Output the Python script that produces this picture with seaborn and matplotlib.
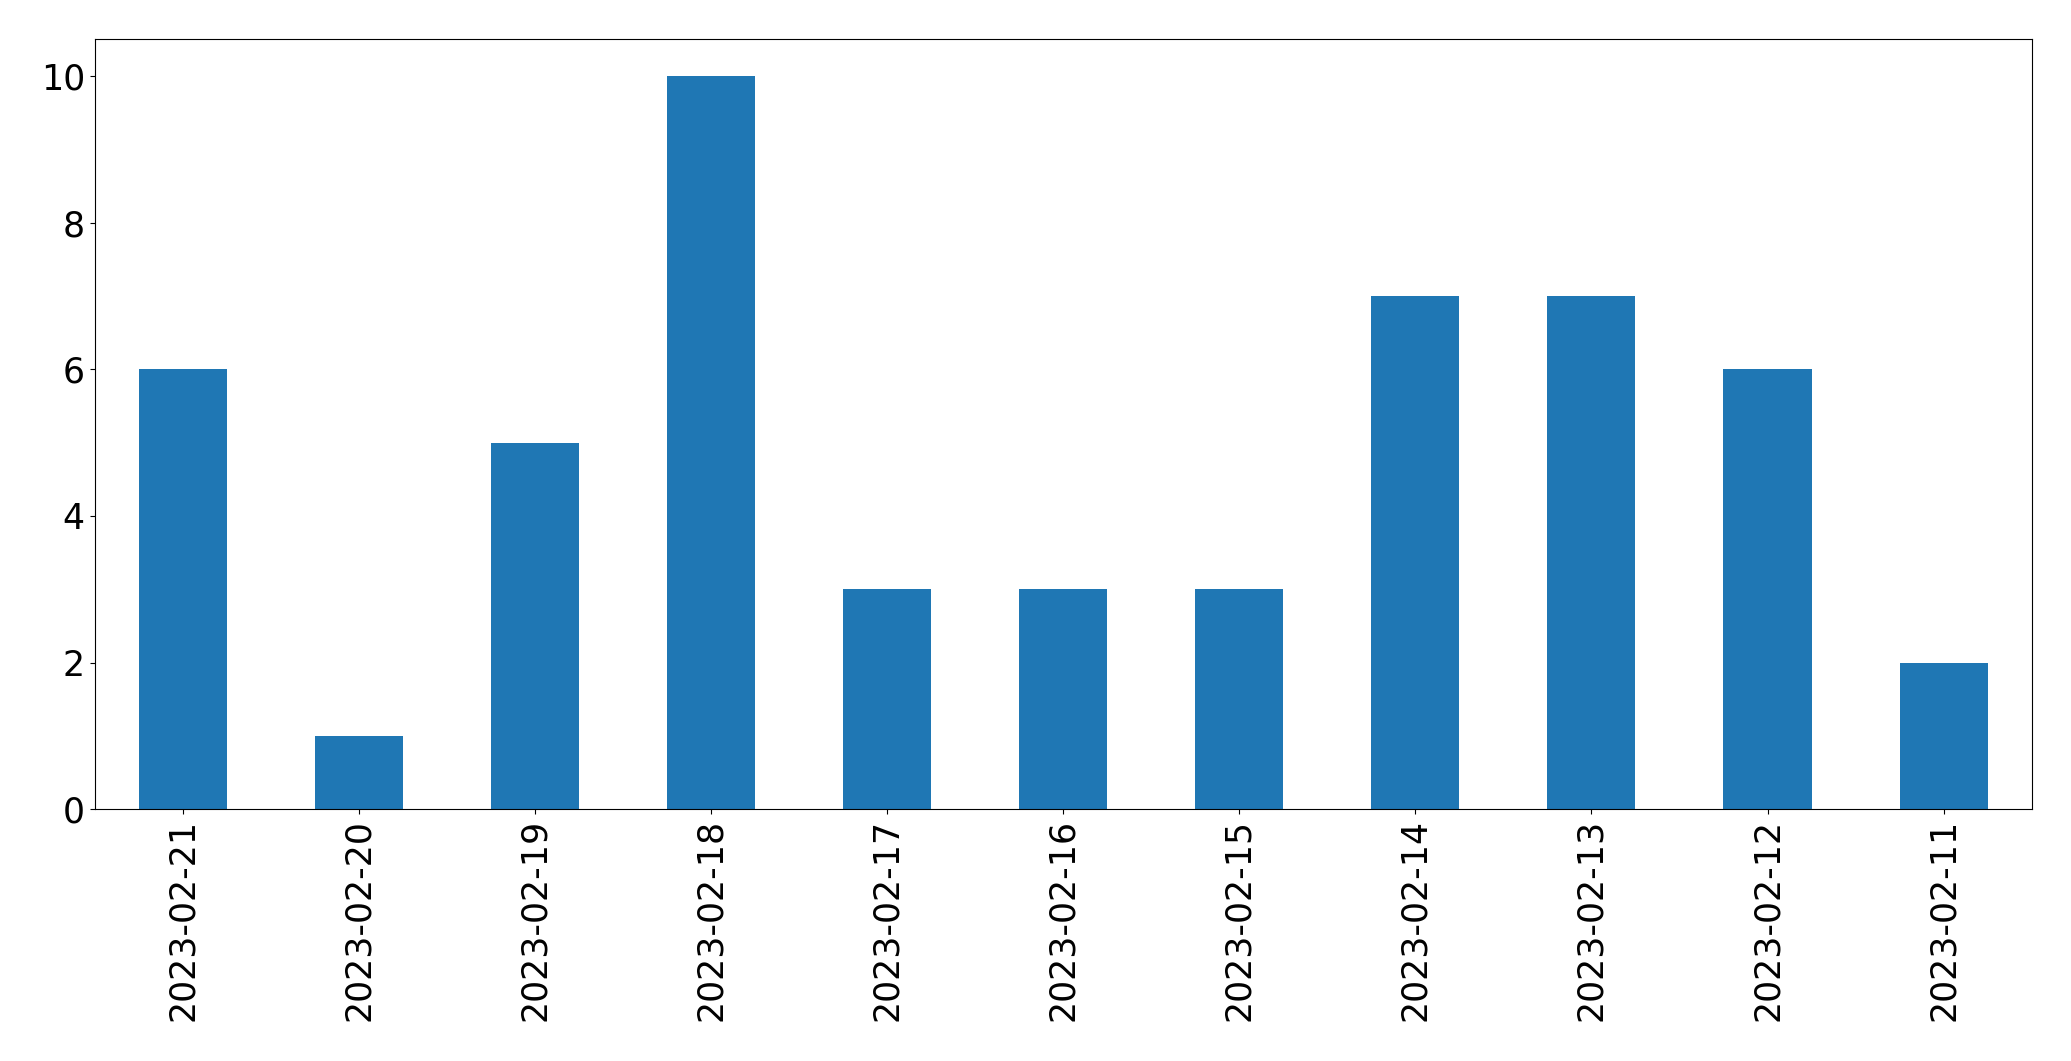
import seaborn as sns
import pandas as pd
from matplotlib import pyplot as plt

# daily counts, as shown (newest first)
dates = ["2023-02-21", "2023-02-20", "2023-02-19", "2023-02-18", "2023-02-17", "2023-02-16",
         "2023-02-15", "2023-02-14", "2023-02-13", "2023-02-12", "2023-02-11"]
counts = [6, 1, 5, 10, 3, 3, 3, 7, 7, 6, 2]

df = pd.DataFrame({"date": dates, "count": counts})

fig = plt.figure(figsize=(20.71, 10.61), dpi=100)
ax = fig.add_axes([0.0457, 0.2372, 0.9353, 0.7258])

sns.barplot(data=df, x="date", y="count", order=dates, color="#1f77b4", saturation=1,
            width=0.5, linewidth=0, ax=ax)

ax.set_xlim(-0.5, len(dates) - 0.5)
ax.set_ylim(0, 10.5)
ax.set_xlabel("")
ax.set_ylabel("")
ax.tick_params(axis="both", labelsize=25)
plt.setp(ax.get_xticklabels(), rotation=90)

plt.savefig("out.png", dpi=100)
